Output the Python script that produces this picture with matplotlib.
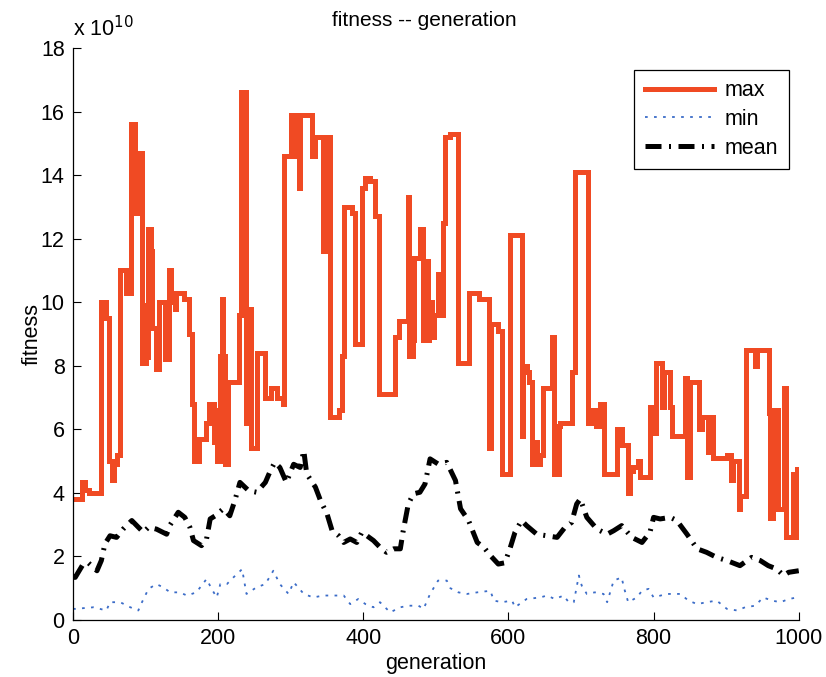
import matplotlib
matplotlib.use("Agg")
import matplotlib.pyplot as plt

plt.rcParams['font.family'] = ['Liberation Sans', 'DejaVu Sans']

# max fitness (x 1e10), piecewise-constant breakpoints: generation, value
max_gen = [0, 12, 16, 22, 38, 45, 50, 54, 57, 60, 65, 73, 80, 85, 87, 89, 91, 95, 101, 103,
           104, 107, 109, 114, 118, 127, 132, 135, 140, 142, 153, 160, 164, 167, 174, 183, 188,
           194, 196, 198, 202, 203, 205, 206, 210, 214, 229, 232, 238, 242, 245, 254, 264, 273,
           281, 289, 291, 300, 304, 306, 311, 313, 329, 333, 344, 347, 354, 366, 370, 374, 384,
           389, 398, 402, 409, 416, 421, 444, 449, 461, 463, 468, 470, 478, 482, 485, 489, 491,
           494, 497, 503, 505, 510, 513, 520, 531, 545, 559, 573, 576, 586, 591, 602, 618, 620,
           625, 629, 633, 636, 640, 643, 648, 660, 663, 669, 671, 687, 692, 709, 714, 720, 726,
           731, 750, 756, 762, 765, 768, 771, 778, 781, 795, 800, 803, 811, 814, 823, 825, 843,
           846, 850, 862, 867, 875, 877, 882, 901, 906, 910, 917, 919, 927, 940, 943, 959, 961,
           964, 972, 979, 982, 992, 994, 997, 1000]
max_val = [3.8, 4.35, 4.1, 4.0, 10.0, 9.5, 5.0, 4.4, 4.9, 5.2, 11.0, 10.3, 15.6, 12.8, 14.7, 12.8, 14.7, 8.1, 9.9, 8.2,
           12.3, 11.6, 9.2, 7.9, 10.0, 8.2, 11.0, 10.0, 9.8, 10.3, 10.1, 9.0, 6.8, 5.0, 5.7, 6.2, 6.8,
           5.6, 6.6, 5.0, 5.2, 8.3, 10.1, 8.3, 4.9, 7.5, 9.6, 16.6, 6.2, 9.8, 5.4, 8.4, 7.0, 7.3,
           7.0, 6.8, 14.6, 15.9, 14.6, 15.9, 13.6, 15.9, 14.6, 15.2, 11.6, 15.2, 6.4, 6.6, 8.3, 13.0, 12.8,
           8.7, 13.6, 13.9, 13.8, 12.7, 7.1, 8.9, 9.4, 13.3, 8.3, 8.8, 11.4, 12.3, 8.8, 11.3, 8.8, 10.0,
           8.9, 9.6, 10.9, 9.6, 12.5, 15.2, 15.3, 8.1, 10.3, 10.1, 5.4, 9.3, 9.1, 4.6, 12.1, 5.8, 8.0,
           7.8, 7.5, 4.9, 5.6, 4.9, 5.2, 7.3, 8.9, 4.6, 6.1, 6.2, 7.8, 14.1, 6.2, 6.6, 6.1, 6.8,
           4.6, 6.0, 5.5, 5.5, 4.0, 4.7, 4.8, 5.0, 4.5, 6.7, 5.9, 8.1, 6.7, 7.8, 6.7, 5.8, 7.6,
           4.5, 7.5, 6.0, 6.4, 5.3, 6.4, 5.1, 5.2, 4.4, 5.0, 3.5, 3.9, 8.5, 8.0, 8.5, 6.5, 3.2,
           6.6, 3.5, 7.3, 2.6, 4.6, 2.6, 4.75, 4.75]

# mean fitness (x 1e10)
mean_gen = [0, 3, 14, 21, 33, 39, 44, 51, 60, 69, 81, 90, 97, 104, 115, 129, 134, 145, 154, 161,
            166, 177, 184, 189, 196, 207, 216, 223, 230, 242, 253, 265, 272, 278, 285, 294, 304,
            313, 318, 322, 334, 341, 350, 357, 366, 373, 382, 391, 398, 405, 414, 423, 432, 442,
            451, 455, 462, 469, 478, 485, 492, 503, 515, 527, 534, 545, 557, 566, 575, 586, 595,
            602, 609, 618, 625, 639, 653, 667, 678, 687, 694, 699, 708, 722, 736, 745, 756, 770,
            784, 795, 800, 809, 823, 832, 846, 860, 873, 887, 901, 919, 935, 947, 958, 970, 979,
            986, 1000]
mean_val = [1.35, 1.34, 1.76, 1.8, 1.55, 1.87, 2.4, 2.65, 2.6, 2.86, 3.13, 2.92, 2.76, 2.92, 2.86, 2.7, 3.0, 3.39, 3.23, 2.92,
            2.5, 2.34, 2.55, 3.18, 3.28, 3.5, 3.28, 3.76, 4.33, 4.07, 4.02, 4.33, 4.7, 4.96, 4.8, 4.33, 4.9,
            4.8, 5.33, 4.6, 4.18, 3.76, 3.34, 2.81, 2.65, 2.44, 2.55, 2.44, 2.76, 2.65, 2.5, 2.29, 2.13, 2.24,
            2.24, 2.81, 3.65, 3.97, 4.02, 4.28, 5.07, 4.91, 4.96, 4.39, 3.5, 3.13, 2.44, 2.29, 2.03, 1.76, 1.8,
            2.24, 2.76, 3.13, 2.97, 2.7, 2.65, 2.6, 2.92, 3.07, 3.65, 3.81, 3.23, 2.86, 2.7, 2.81, 2.97, 2.6,
            2.44, 2.76, 3.23, 3.18, 3.23, 3.13, 2.7, 2.24, 2.13, 1.97, 1.87, 1.71, 1.97, 1.87, 1.71, 1.6, 1.4,
            1.5, 1.55]

# min fitness (x 1e10)
min_gen = [0, 3, 28, 46, 51, 65, 79, 90, 95, 104, 115, 124, 134, 147, 157, 170, 184, 191, 198, 203,
           212, 221, 233, 239, 253, 265, 276, 285, 297, 304, 318, 331, 345, 359, 373, 382, 393, 403,
           414, 423, 437, 451, 462, 476, 483, 492, 503, 515, 520, 531, 543, 557, 575, 580, 591, 605,
           609, 625, 644, 653, 664, 676, 683, 690, 697, 701, 708, 719, 731, 736, 745, 756, 759, 765,
           777, 784, 793, 800, 818, 837, 848, 860, 873, 887, 901, 915, 926, 940, 951, 963, 975, 986,
           998, 1000]
min_val = [0.35, 0.35, 0.4, 0.3, 0.56, 0.56, 0.4, 0.3, 0.56, 0.98, 1.13, 1.03, 0.87, 0.87, 0.77, 0.87, 1.29, 0.98, 0.71, 1.13,
           1.13, 1.34, 1.6, 0.82, 1.03, 1.13, 1.55, 1.13, 0.82, 1.19, 0.82, 0.71, 0.77, 0.77, 0.77, 0.5, 0.66, 0.5,
           0.4, 0.56, 0.24, 0.4, 0.45, 0.45, 0.35, 0.82, 1.24, 1.24, 1.0, 0.87, 0.82, 0.87, 0.92, 0.61, 0.56, 0.61,
           0.4, 0.66, 0.71, 0.77, 0.66, 0.77, 0.56, 0.56, 1.4, 1.08, 0.82, 0.87, 0.82, 0.56, 1.24, 1.34, 1.03, 0.56,
           0.71, 0.92, 0.98, 0.71, 0.82, 0.82, 0.61, 0.5, 0.56, 0.61, 0.35, 0.3, 0.4, 0.45, 0.71, 0.61, 0.56, 0.66,
           0.71, 0.71]

x_ticks = [0, 200, 400, 600, 800, 1000]
y_ticks = [0, 2, 4, 6, 8, 10, 12, 14, 16, 18]

fig = plt.figure(figsize=(8.26, 6.77), dpi=100)
ax = fig.add_axes([0.0884, 0.0842, 0.8786, 0.8449])

ax.plot(max_gen, max_val, drawstyle='steps-post', color='#f04a23', lw=3.6, label='max',
        solid_joinstyle='miter')
ax.plot(min_gen, min_val, color='#3b6cc8', lw=1.3, ls=(0, (1.5, 3.5)), label='min')
ax.plot(mean_gen, mean_val, color='black', lw=3.6, ls=(0, (3.2, 1.5, 0.4, 1.5)), label='mean')

ax.set_xlim(0, 1000)
ax.set_ylim(0, 18)
ax.set_xticks(x_ticks)
ax.set_yticks(y_ticks)
ax.set_xticklabels([str(v) for v in x_ticks])
ax.set_yticklabels([str(v) for v in y_ticks])
ax.tick_params(direction='in', length=6, width=0.8, labelsize=15.5, pad=6)
for s in ['top', 'right']:
    ax.spines[s].set_visible(False)
for s in ['left', 'bottom']:
    ax.spines[s].set_linewidth(0.9)

ax.set_xlabel('generation', fontsize=15.5, labelpad=3)
ax.set_ylabel('fitness', fontsize=15.5)
ax.yaxis.set_label_coords(-0.042, 0.5)
ax.set_title('fitness -- generation', fontsize=15, pad=16, x=0.484)
ax.text(0.0, 1.012, r'x 10$^{10}$', transform=ax.transAxes, fontsize=15.5, ha='left', va='bottom')

leg = ax.legend(loc='upper right', bbox_to_anchor=(0.986, 0.962), fontsize=15.5, frameon=True,
                fancybox=False, framealpha=1, edgecolor='black', handlelength=3.2,
                borderpad=0.5, labelspacing=0.35, handletextpad=0.5, borderaxespad=0)
leg.get_frame().set_linewidth(0.9)

fig.savefig('out.png', dpi=100)
